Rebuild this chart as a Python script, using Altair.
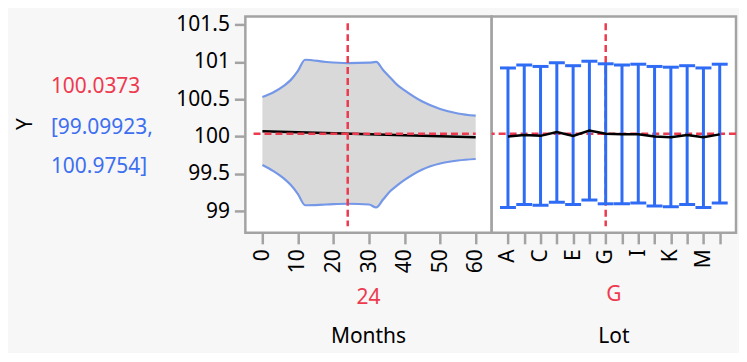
import altair as alt
import pandas as pd

# ---------------- data ----------------
months = [0, 3, 6, 8, 10, 12, 18, 24, 30, 32, 34, 36, 38, 40, 45, 50, 55, 60]
band_upper = [100.53, 100.59, 100.68, 100.76, 100.88, 101.03, 101.00, 100.985, 100.99, 101.00,
              100.89, 100.79, 100.69, 100.62, 100.47, 100.37, 100.31, 100.28]
band_lower = [99.62, 99.54, 99.44, 99.35, 99.23, 99.08, 99.09, 99.10, 99.09, 99.05,
              99.16, 99.27, 99.35, 99.42, 99.56, 99.64, 99.68, 99.70]
line_months = [0, 60]
line_y = [100.07, 99.99]

lots = list("ABCDEFGHIJKLMN")
lot_mean = [100.00, 100.02, 100.01, 100.06, 100.01, 100.08, 100.0373, 100.03, 100.03,
            100.00, 99.99, 100.02, 99.99, 100.03]
lot_upper = [100.92, 100.96, 100.94, 100.99, 100.95, 101.01, 100.9754, 100.96, 100.97,
             100.94, 100.93, 100.95, 100.92, 100.97]
lot_lower = [99.05, 99.09, 99.08, 99.12, 99.09, 99.15, 99.09923, 99.10, 99.11,
             99.07, 99.06, 99.09, 99.05, 99.11]

current_y = "100.0373"
current_lo = "[99.09923,"
current_hi = "100.9754]"
current_y_val = 100.0373
current_month = 24
current_lot = "G"

y_ticks = [99, 99.5, 100, 100.5, 101, 101.5]
x_ticks = [0, 10, 20, 30, 40, 50, 60]
lot_labels_shown = ["A", "C", "E", "G", "I", "K", "M"]

# ---------------- style ----------------
RED = "#ee3a4f"
BLUE_TEXT = "#3d6ff0"
BAR_BLUE = "#2f6cf5"
BAND_LINE = "#7497e8"
BAND_FILL = "#d9d9d9"
GRAY = "#a3a3a3"
FONT = "Noto Sans"
FS = 21
TXT_W = 234
PW_L, PW_R, PH = 247, 245, 217
YDOM = [98.71, 101.61]

yscale = alt.Scale(domain=YDOM, nice=False, zero=False)
xscale_m = alt.Scale(domain=[-4.8, 64.5], nice=False, zero=False)
xaxis_m = alt.Axis(values=x_ticks, labelAngle=-90, title=None, tickSize=11, labelPadding=5)
yaxis = alt.Axis(values=y_ticks, format="~f", title=None, tickSize=11, labelPadding=5)

# ---------------- left-side text view ----------------
one = pd.DataFrame({"k": [0]})
def txt(label, color, x, y, angle=0, align="left", baseline="alphabetic"):
    return alt.Chart(one).mark_text(
        text=label, color=color, font=FONT, fontSize=FS, angle=angle,
        align=align, baseline=baseline
    ).encode(x=alt.value(x), y=alt.value(y))

text_view = alt.layer(
    txt("Y", "black", 14.5, 108, angle=270, align="center", baseline="middle"),
    txt(current_y, RED, 39, 76.5),
    txt(current_lo, BLUE_TEXT, 39, 118),
    txt(current_hi, BLUE_TEXT, 39, 156.5),
).properties(width=TXT_W, height=PH,
             view=alt.ViewBackground(stroke="transparent", fill="transparent"))

# ---------------- Months panel ----------------
band_df = pd.DataFrame({"Months": months, "upper": band_upper, "lower": band_lower})
mean_df = pd.DataFrame({"Months": line_months, "Y": line_y})

X_M = lambda f: alt.X(f, scale=xscale_m, axis=xaxis_m)
Y_ = lambda f: alt.Y(f, scale=yscale, axis=yaxis)

area = alt.Chart(band_df).mark_area(color=BAND_FILL, interpolate="monotone", opacity=1).encode(
    x=X_M("Months:Q"), y=Y_("upper:Q"), y2="lower:Q")
up_line = alt.Chart(band_df).mark_line(color=BAND_LINE, strokeWidth=2.2, interpolate="monotone").encode(
    x=X_M("Months:Q"), y=Y_("upper:Q"))
lo_line = alt.Chart(band_df).mark_line(color=BAND_LINE, strokeWidth=2.2, interpolate="monotone").encode(
    x=X_M("Months:Q"), y=Y_("lower:Q"))
mean_line = alt.Chart(mean_df).mark_line(color="black", strokeWidth=2.5).encode(
    x=X_M("Months:Q"), y=Y_("Y:Q"))

hrule_df = pd.DataFrame({"Months": [-2.5], "m2": [60], "Y": [current_y_val]})
hrule = alt.Chart(hrule_df).mark_rule(color=RED, strokeWidth=2.5, strokeDash=[7, 4]).encode(
    x=X_M("Months:Q"), x2="m2:Q", y=Y_("Y:Q"))
vrule_df = pd.DataFrame({"Months": [current_month], "Y": [101.52], "y2": [98.8]})
vrule = alt.Chart(vrule_df).mark_rule(color=RED, strokeWidth=2.5, strokeDash=[7, 4]).encode(
    x=X_M("Months:Q"), y=Y_("Y:Q"), y2="y2:Q")

m_val = alt.Chart(one).mark_text(text=str(current_month), color=RED, font=FONT, fontSize=FS,
                                 align="center", baseline="alphabetic").encode(
    x=alt.value(PW_L / 2), y=alt.value(288.5))
m_title = alt.Chart(one).mark_text(text="Months", color="black", font=FONT, fontSize=FS,
                                   align="center", baseline="alphabetic").encode(
    x=alt.value(PW_L / 2), y=alt.value(327.5))

left = alt.layer(area, up_line, lo_line, mean_line, hrule, vrule, m_val, m_title).properties(
    width=PW_L, height=PH,
    view=alt.ViewBackground(stroke=GRAY, strokeWidth=2.5, fill="white"))

# ---------------- Lot panel ----------------
lot_df = pd.DataFrame({"Lot": lots, "mean": lot_mean, "upper": lot_upper, "lower": lot_lower})
xscale_l = alt.Scale(type="point", domain=lots, padding=1.0)
label_expr = "indexof(" + str(lot_labels_shown).replace("'", "\"") + ", datum.value) >= 0 ? datum.value : ''"
xaxis_l = alt.Axis(labelAngle=-90, title=None, tickSize=11, labelPadding=5, labelExpr=label_expr)
X_L = lambda: alt.X("Lot:N", scale=xscale_l, axis=xaxis_l, sort=lots)
Y_R = lambda f: alt.Y(f, scale=yscale, axis=None)

bars = alt.Chart(lot_df).mark_rule(color=BAR_BLUE, strokeWidth=3).encode(
    x=X_L(), y=Y_R("upper:Q"), y2="lower:Q")
cap_hi = alt.Chart(lot_df).mark_tick(color=BAR_BLUE, orient="horizontal", size=16, thickness=3, opacity=1).encode(
    x=X_L(), y=Y_R("upper:Q"))
cap_lo = alt.Chart(lot_df).mark_tick(color=BAR_BLUE, orient="horizontal", size=16, thickness=3, opacity=1).encode(
    x=X_L(), y=Y_R("lower:Q"))
lot_line = alt.Chart(lot_df).mark_line(color="black", strokeWidth=2.5).encode(
    x=X_L(), y=Y_R("mean:Q"))
hrule_r_df = pd.DataFrame({"Y": [current_y_val]})
hrule_r = alt.Chart(hrule_r_df).mark_rule(color=RED, strokeWidth=2.5, strokeDash=[7, 4]).encode(
    y=Y_R("Y:Q"))
vrule_r_df = pd.DataFrame({"Lot": [current_lot], "Y": [101.52], "y2": [98.8]})
vrule_r = alt.Chart(vrule_r_df).mark_rule(color=RED, strokeWidth=2.5, strokeDash=[7, 4]).encode(
    x=X_L(), y=Y_R("Y:Q"), y2="y2:Q")
l_val = alt.Chart(one).mark_text(text=current_lot, color=RED, font=FONT, fontSize=FS,
                                 align="center", baseline="alphabetic").encode(
    x=alt.value(PW_R / 2), y=alt.value(285))
l_title = alt.Chart(one).mark_text(text="Lot", color="black", font=FONT, fontSize=FS,
                                   align="center", baseline="alphabetic").encode(
    x=alt.value(PW_R / 2), y=alt.value(327.5))

right = alt.layer(hrule_r, vrule_r, bars, cap_hi, cap_lo, lot_line, l_val, l_title).properties(
    width=PW_R, height=PH,
    view=alt.ViewBackground(stroke=GRAY, strokeWidth=2.5, fill="white"))

chart = alt.hconcat(text_view, left, right, spacing=0, bounds="flush").properties(
    padding={"left": 3, "top": 3, "right": 0, "bottom": 4}
).configure(
    background="#f7f7f7", font=FONT
).configure_axis(
    labelFont=FONT, labelFontSize=FS, labelColor="black", tickColor=GRAY, tickWidth=2.5,
    domain=False, grid=False
)

chart.save("out.html", embed_options={"renderer": "svg", "actions": False})
